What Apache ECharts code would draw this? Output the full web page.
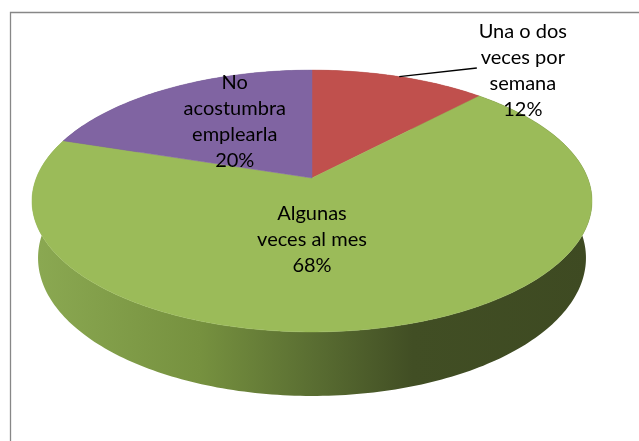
<!DOCTYPE html>
<html>
<head>
<meta charset="utf-8">
<script src="https://cdn.jsdelivr.net/npm/echarts@6/dist/echarts.min.js"></script>
<style>
html,body{margin:0;padding:0;background:#fff;}
#chart{width:639px;height:441px;}
</style>
</head>
<body>
<div id="chart"></div>
<script>
// ---- data ----
var categories = ['Una o dos veces por semana', 'Algunas veces al mes', 'No acostumbra emplearla'];
var labelLines = ['Una o dos\nveces por\nsemana', 'Algunas\nveces al mes', 'No\nacostumbra\nemplearla'];
var values = [12, 68, 20];

// ---- styles / layout ----
var topColors = ['#C0504D', '#9BBB59', '#8064A2'];
var wallColors = ['#8E3B39', null, '#5E4A78'];
// label placement on the pie disk: [angle from 12 o'clock clockwise (deg), radius fraction]
var labelPlacement = [[42.2, 1.337], [180, 0.45], [328, 0.574]];
var leaderFor = [true, false, false];

// perspective projection of the 3D pie
var CX = 312, CY = 178;
var ALPHA = 27.4 * Math.PI / 180;
var S = Math.sin(ALPHA), C = Math.cos(ALPHA);
var D = 5.05, F = 1392, H = 0.2346;

function proj(u, v, h) {
  var depth = D - v * C - h * S;
  return [CX + F * u / depth, CY + F * (v * S - h * C) / depth];
}
function disk(tDeg, r, h) {
  var t = tDeg * Math.PI / 180;
  return proj(r * Math.sin(t), -r * Math.cos(t), h);
}
function rim(t0, t1, h) {
  var pts = [];
  var n = Math.max(2, Math.ceil(Math.abs(t1 - t0)));
  for (var i = 0; i <= n; i++) {
    pts.push(disk(t0 + (t1 - t0) * i / n, 1, h));
  }
  return pts;
}

var total = values.reduce(function (a, b) { return a + b; }, 0);
var starts = [];
(function () {
  var acc = 0;
  for (var i = 0; i < values.length; i++) { starts.push(acc / total * 360); acc += values[i]; }
})();

var wallGradient = new echarts.graphic.LinearGradient(32, 0, 592, 0, [
  {offset: 0, color: '#8BA952'},
  {offset: 0.3, color: '#76913F'},
  {offset: 0.5, color: '#5A6E32'},
  {offset: 0.68, color: '#414E24'},
  {offset: 1, color: '#3E4A22'}
], true);

var FONT = '20px Lato, "Open Sans", sans-serif';

function renderItem(params, api) {
  var i = params.dataIndex;
  var val = api.value(0);
  var t0 = starts[i];
  var t1 = t0 + val / total * 360;
  var children = [];
  // side wall
  var topRim = rim(t0, t1, 0);
  var botRim = rim(t1, t0, -H);
  children.push({
    type: 'polygon',
    shape: {points: topRim.concat(botRim)},
    style: {fill: wallColors[i] || wallGradient, stroke: null},
    z2: 1
  });
  // top face
  var face = [proj(0, 0, 0)].concat(rim(t0, t1, 0));
  children.push({
    type: 'polygon',
    shape: {points: face},
    style: {fill: topColors[i], stroke: topColors[i], lineWidth: 0.5},
    z2: 10
  });
  // label
  var lp = labelPlacement[i];
  var pos = disk(lp[0], lp[1], 0);
  var pct = Math.round(val / total * 100) + '%';
  children.push({
    type: 'text',
    style: {
      text: labelLines[i] + '\n' + pct,
      x: pos[0], y: pos[1],
      align: 'center', verticalAlign: 'middle',
      font: FONT, lineHeight: 26, fill: '#000'
    },
    z2: 30
  });
  if (leaderFor[i]) {
    var mid = (t0 + t1) / 2;
    var end = disk(mid, 1, 0);
    children.push({
      type: 'line',
      shape: {x1: pos[0] - 46, y1: pos[1] - 3, x2: end[0], y2: end[1]},
      style: {stroke: '#000', lineWidth: 1.5},
      z2: 25
    });
  }
  return {type: 'group', children: children};
}

var chart = echarts.init(document.getElementById('chart'), null, {renderer: 'canvas'});
chart.setOption({
  backgroundColor: '#fff',
  animation: false,
  graphic: [{
    type: 'rect',
    shape: {x: 10.5, y: 12.5, width: 700, height: 500},
    style: {fill: null, stroke: '#878787', lineWidth: 1.3},
    z: -10
  }],
  series: [{
    type: 'custom',
    coordinateSystem: 'none',
    renderItem: renderItem,
    data: values.map(function (v, i) { return {name: categories[i], value: [v]}; })
  }]
});
</script>
</body>
</html>
